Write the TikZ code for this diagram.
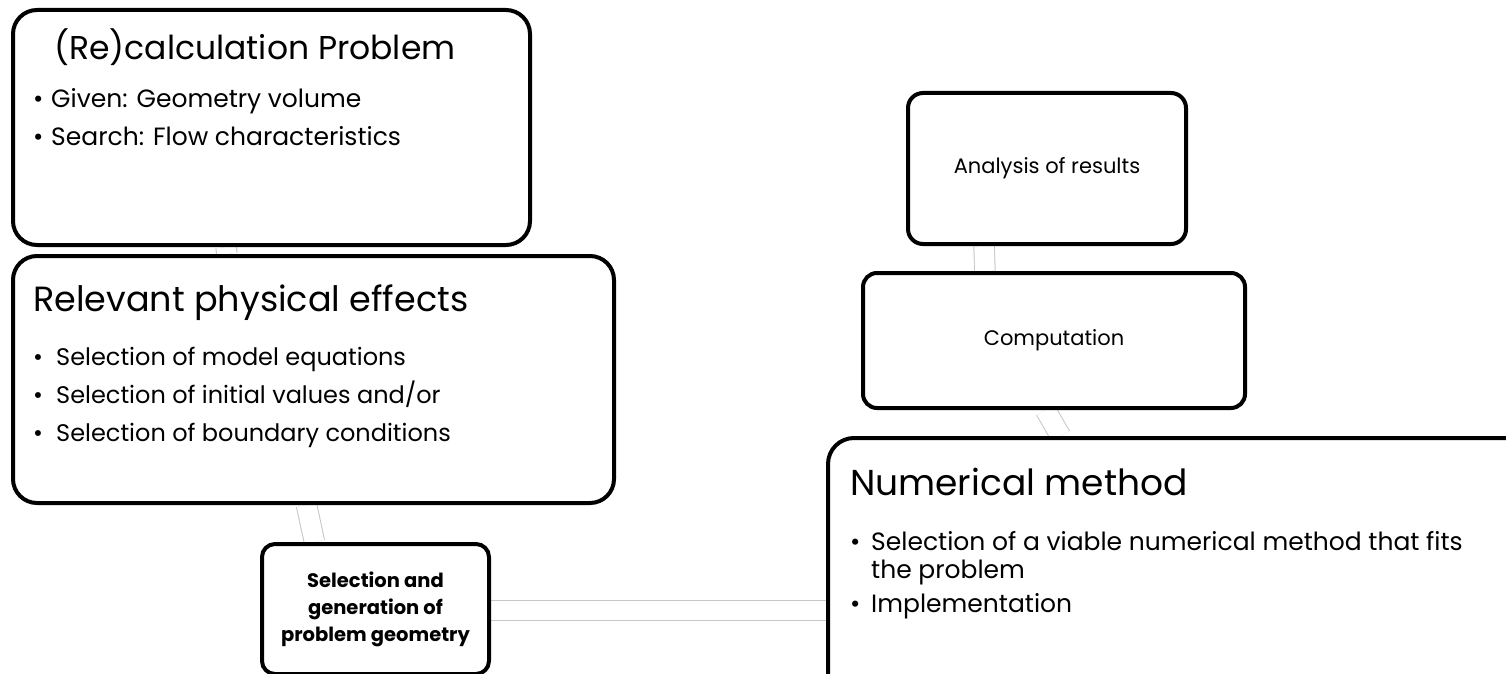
\documentclass[tikz,border=0pt]{standalone}
\usepackage{fontspec}
\setmainfont{Poppins}
\usetikzlibrary{calc,backgrounds}
\begin{document}
\begin{tikzpicture}[x=1pt, y=-1pt,
  box/.style={draw, line width=4pt, fill=white, rounded corners=#1, inner sep=0pt},
  box/.default=24pt,
  link/.style={draw=black!22, line width=1pt, double=white, double distance=19.5pt},
  head/.style={anchor=base west, inner sep=0pt, font=\fontsize{35}{40}\selectfont},
  item/.style={anchor=base west, inner sep=0pt, align=left, font=\fontsize{24}{28}\selectfont}]
  \useasboundingbox (0,0) rectangle (1506,674);
  \clip (0,0) rectangle (1506,674);
  % Boxes
  \node[box] (calc) at (271.5,127.5) [minimum width=517pt, minimum height=235pt] {};
  \node[box] (phys) at (313.5,379.5) [minimum width=601pt, minimum height=247pt] {};
  \node[box=13pt, minimum width=227pt, minimum height=130pt, align=center,
        font=\fontsize{19.5}{27}\selectfont\bfseries] (geom) at (375.5,609)
        {Selection and\\generation of\\problem geometry};
  \node[box=15pt, minimum width=278pt, minimum height=151pt,
        font=\fontsize{21}{24}\selectfont] (anal) at (1047,168.5) {Analysis of results};
  \node[box=14pt, minimum width=382pt, minimum height=135pt,
        font=\fontsize{21}{24}\selectfont] (comp) at (1054,340.5) {Computation};
  \node[box=26pt] (num) at (1179,569) [minimum width=702pt, minimum height=262pt] {};
  % Texts
  \node[head, anchor=base, font=\fontsize{33}{40}\selectfont] (calct) at ($(calc.north west)+(244,52)$) {(Re)calculation Problem};
  \node[item, font=\fontsize{25}{28}\selectfont] (calc1) at ($(calc.north west)+(22,100)$) {\makebox[18pt][l]{•}Given: Geometry volume};
  \node[item, font=\fontsize{25}{28}\selectfont] (calc2) at ($(calc.north west)+(22,138)$) {\makebox[18pt][l]{•}Search: Flow characteristics};
  \node[head] (physt) at ($(phys.north west)+(22,57)$) {Relevant physical effects};
  \foreach \t [count=\i] in {model equations, initial values and/or, boundary conditions} {
    \node[item] (phys\i) at ($(phys.north west)+(22,73+38*\i)$) {\makebox[23pt][l]{•}Selection of \t};
  }
  \node[head, font=\fontsize{36}{40}\selectfont] (numt) at ($(num.north west)+(24,59)$) {Numerical method};
  \node[item, font=\fontsize{25}{28}\selectfont] (num1) at ($(num.north west)+(24,142)$)
    {\makebox[21pt][l]{•}Selection of a viable numerical method that fits\\\hspace*{21pt}the problem};
  \node[item, font=\fontsize{25}{28}\selectfont] (num2) at ($(num.north west)+(24,176)$) {\makebox[21pt][l]{•}Implementation};
  % Links
  \begin{scope}[on background layer]
    \draw[link] ($(calc.south)+(-45.5,0)$) -- ($(phys.north)+(-86.5,0)$);
    \draw[link] ($(phys.south)+(-7,0)$) -- ($(geom.north)+(-61,0)$);
    \draw[link] ($(geom.east)+(0,1.5)$) -- ($(num.west)+(0,41.5)$);
    \draw[link] ($(num.north)+(-118.5,0)$) -- ($(comp.south)+(-8.5,0)$);
    \draw[link] ($(comp.north)+(-69,0)$) -- ($(anal.south)+(-63,0)$);
  \end{scope}
\end{tikzpicture}
\end{document}
